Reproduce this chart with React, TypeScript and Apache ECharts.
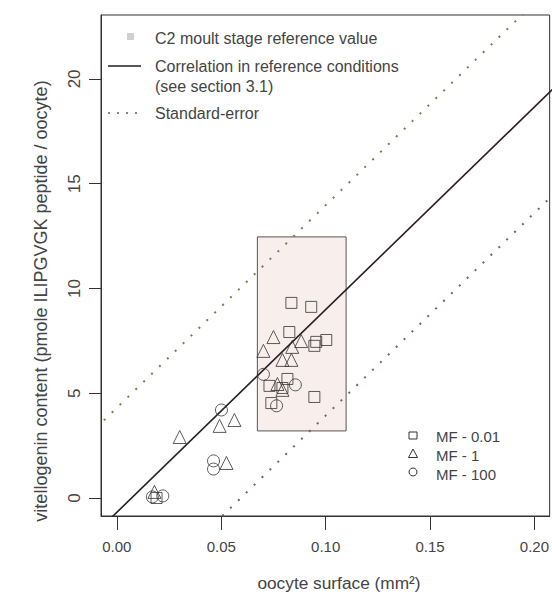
import React, { useEffect, useRef } from "react";
import * as echarts from "echarts";

// oocyte surface (mm2), vitellogenin content (pmol / oocyte)
const mf001: number[][] = [
  [0.0836, 9.31], [0.0931, 9.12], [0.0826, 7.92], [0.1003, 7.54], [0.0955, 7.45],
  [0.0946, 7.26], [0.0817, 5.68], [0.0731, 5.35], [0.0793, 5.25], [0.0946, 4.82],
  [0.074, 4.53], [0.019, 0.0],
];
const mf1: number[][] = [
  [0.075, 7.68], [0.0702, 7.02], [0.0883, 7.49], [0.084, 7.21], [0.0793, 6.59],
  [0.0836, 6.59], [0.0769, 5.44], [0.0793, 5.16], [0.0301, 2.91], [0.0492, 3.44],
  [0.0563, 3.72], [0.0525, 1.67], [0.018, 0.29],
];
const mf100: number[][] = [
  [0.0702, 5.9], [0.0855, 5.4], [0.0765, 4.4], [0.0501, 4.2], [0.0463, 1.77],
  [0.0463, 1.38], [0.017, 0.05], [0.022, 0.1],
];
const corrLine: number[][] = [[-0.01, -1.65], [0.21, 19.63]];
const seUpper: number[][] = [[-0.01, 3.34], [0.21, 24.6]];
const seLower: number[][] = [[-0.01, -6.71], [0.21, 14.57]];
const c2Box = { x0: 0.0673, x1: 0.1098, y0: 3.2, y1: 12.46 };
const xTicks = [0, 0.05, 0.1, 0.15, 0.2];
const yTicks = [0, 5, 10, 15, 20];
const X_MIN = -0.0076, X_MAX = 0.2073, Y_MIN = -0.86, Y_MAX = 23.05;
const xTitle = "oocyte surface (mm²)";
const yTitle = "vitellogenin content (pmole ILIPGVGK peptide / oocyte)";

const FONT = "'Liberation Sans', Arial, Helvetica, sans-serif";
const TXT = "#444";
const INK = "#333";

export default function App() {
  const ref = useRef<HTMLDivElement>(null);
  useEffect(() => {
    if (!ref.current) return;
    const chart = echarts.init(ref.current, undefined, { renderer: "svg" });
    const symStyle = { color: "transparent", borderColor: INK, borderWidth: 1 };
    const lg = `16px ${FONT}`;
    const mf = `15px ${FONT}`;
    chart.setOption({
      animation: false,
      textStyle: { fontFamily: FONT },
      grid: { left: 101, right: 1, top: 15, bottom: 80, show: true, borderColor: INK, borderWidth: 1, backgroundColor: "transparent" },
      xAxis: {
        type: "value", min: X_MIN, max: X_MAX,
        splitLine: { show: false },
        axisLine: { show: true, onZero: false, lineStyle: { color: INK } },
        axisTick: { show: true, length: 14, customValues: xTicks, lineStyle: { color: INK } },
        axisLabel: { customValues: xTicks, margin: 23, fontSize: 15, color: TXT, fontFamily: FONT, formatter: (v: number) => v.toFixed(2) },
      },
      yAxis: {
        type: "value", min: Y_MIN, max: Y_MAX,
        splitLine: { show: false },
        axisLine: { show: true, onZero: false, lineStyle: { color: INK } },
        axisTick: { show: true, length: 12, customValues: yTicks, lineStyle: { color: INK } },
        axisLabel: { customValues: yTicks, rotate: 90, margin: 18, fontSize: 17, color: TXT, fontFamily: FONT },
      },
      series: [
        {
          type: "scatter", data: [], z: 1, silent: true,
          markArea: {
            silent: true,
            itemStyle: { color: "#f8eeec", borderColor: "#555", borderWidth: 1 },
            data: [[{ coord: [c2Box.x0, c2Box.y0] }, { coord: [c2Box.x1, c2Box.y1] }]],
          },
        },
        { type: "line", data: seUpper, clip: true, symbol: "none", z: 2, lineStyle: { color: "#7d7a58", width: 2, type: [2, 9] } },
        { type: "line", data: seLower, clip: true, symbol: "none", z: 2, lineStyle: { color: "#7d5d6e", width: 2, type: [2, 9] } },
        { type: "line", data: corrLine, clip: true, symbol: "none", z: 3, lineStyle: { color: "#2b1b25", width: 1.6 } },
        { type: "scatter", data: mf001, symbol: "rect", symbolSize: 11, z: 4, itemStyle: symStyle },
        { type: "scatter", data: mf1, symbol: "triangle", symbolSize: 13, z: 4, itemStyle: symStyle },
        { type: "scatter", data: mf100, symbol: "circle", symbolSize: 12, z: 4, itemStyle: symStyle },
      ],
      graphic: [
        { type: "text", x: 339, y: 583, style: { text: xTitle, fill: TXT, font: `17.3px ${FONT}`, align: "center", verticalAlign: "middle" } },
        { type: "text", x: 41, y: 301, rotation: Math.PI / 2, style: { text: yTitle, fill: TXT, font: `18px ${FONT}`, align: "center", verticalAlign: "middle" } },
        { type: "rect", shape: { x: 127, y: 33, width: 7, height: 7 }, style: { fill: "#d0d0d0" } },
        { type: "text", x: 155, y: 38, style: { text: "C2 moult stage reference value", fill: TXT, font: lg, verticalAlign: "middle" } },
        { type: "line", shape: { x1: 108, y1: 66, x2: 141, y2: 66 }, style: { stroke: "#2b1b25", lineWidth: 1.5 } },
        { type: "text", x: 155, y: 66, style: { text: "Correlation in reference conditions", fill: TXT, font: lg, verticalAlign: "middle" } },
        { type: "text", x: 155, y: 86, style: { text: "(see section 3.1)", fill: TXT, font: lg, verticalAlign: "middle" } },
        { type: "line", shape: { x1: 108, y1: 113, x2: 141, y2: 113 }, style: { stroke: "#6a5a60", lineWidth: 1.5, lineDash: [2, 7] } },
        { type: "text", x: 155, y: 113, style: { text: "Standard-error", fill: TXT, font: lg, verticalAlign: "middle" } },
        { type: "rect", shape: { x: 409, y: 432, width: 8, height: 7 }, style: { fill: "transparent", stroke: INK, lineWidth: 1 } },
        { type: "polygon", shape: { points: [[413, 449], [408.5, 457.5], [417.5, 457.5]] }, style: { fill: "transparent", stroke: INK, lineWidth: 1 } },
        { type: "circle", shape: { cx: 413, cy: 472, r: 4 }, style: { fill: "transparent", stroke: INK, lineWidth: 1 } },
        { type: "text", x: 436, y: 436, style: { text: "MF - 0.01", fill: TXT, font: mf, verticalAlign: "middle" } },
        { type: "text", x: 436, y: 455, style: { text: "MF - 1", fill: TXT, font: mf, verticalAlign: "middle" } },
        { type: "text", x: 436, y: 474, style: { text: "MF - 100", fill: TXT, font: mf, verticalAlign: "middle" } },
      ],
    });
    return () => chart.dispose();
  }, []);
  return <div ref={ref} style={{ width: 552, height: 596, position: "absolute", left: 0, top: 0 }} />;
}
